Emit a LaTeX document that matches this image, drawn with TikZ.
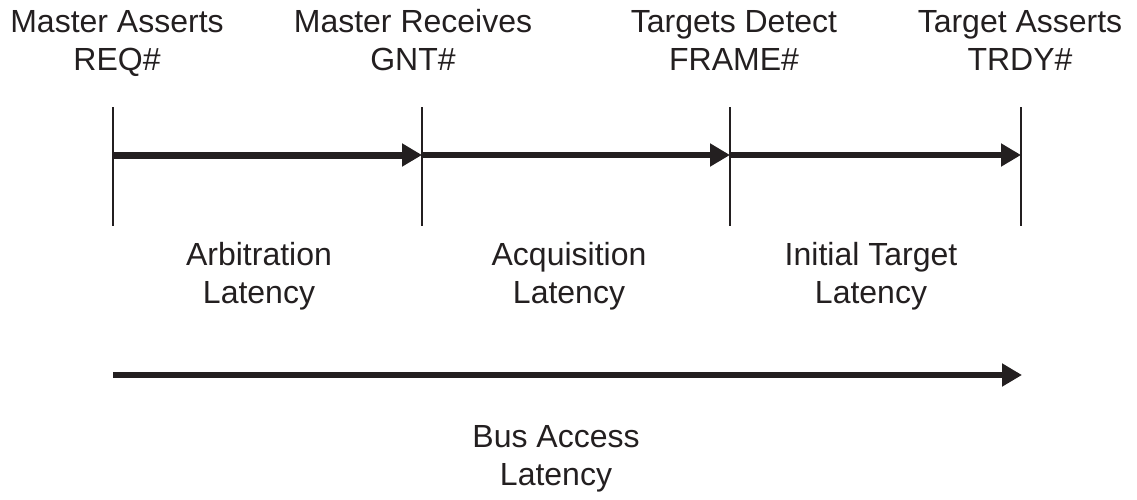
\documentclass[tikz,border=0pt]{standalone}
\usepackage{fontspec}
\setmainfont{Liberation Sans}
\usetikzlibrary{arrows.meta}
\definecolor{ink}{HTML}{231F20}
\begin{document}
\begin{tikzpicture}[x=1pt,y=-1pt,
  lbl/.style={font=\fontsize{32}{38}\selectfont, text=ink, align=center, anchor=base, inner sep=0pt},
  tick/.style={draw=ink, line width=1.5pt},
  span/.style={draw=ink, line width=5.5pt, -{Triangle[length=20pt,width=22pt]}},
  thick span/.style={span, line width=7pt}]
\useasboundingbox (0,0) rectangle (1137,499);
% top labels (anchor base = last line baseline)
\node[lbl] (m1) at (117,70) {Master Asserts\\REQ\#};
\node[lbl] (m2) at (413,70) {Master Receives\\GNT\#};
\node[lbl] (m3) at (734,70) {Targets Detect\\FRAME\#};
\node[lbl] (m4) at (1020,70) {Target Asserts\\TRDY\#};
% tick lines
\coordinate (t1) at (113,107); \coordinate (b1) at (113,226);
\coordinate (t2) at (422,107); \coordinate (b2) at (422,226);
\coordinate (t3) at (730,107); \coordinate (b3) at (730,226);
\coordinate (t4) at (1021,107); \coordinate (b4) at (1021,226);
\draw[tick] (t1) -- (b1);
\draw[tick] (t2) -- (b2);
\draw[tick] (t3) -- (b3);
\draw[tick] (t4) -- (b4);
% spans
\coordinate (a1) at (113,155);
\coordinate (a2) at (422,155);
\coordinate (a3) at (730,155);
\coordinate (a4) at (1021,155);
\draw[thick span] (a1) -- (a2);
\draw[span] (a2) -- (a3);
\draw[span] (a3) -- (a4);
% latency labels
\node[lbl] (l1) at (259,303) {Arbitration\\Latency};
\node[lbl] (l2) at (569,303) {Acquisition\\Latency};
\node[lbl] (l3) at (871,303) {Initial Target\\Latency};
% bus access
\coordinate (s0) at (113,375);
\coordinate (s1) at (1022,375);
\draw[span] (s0) -- (s1);
\node[lbl] (bus) at (556,485) {Bus Access\\Latency};
\end{tikzpicture}
\end{document}
